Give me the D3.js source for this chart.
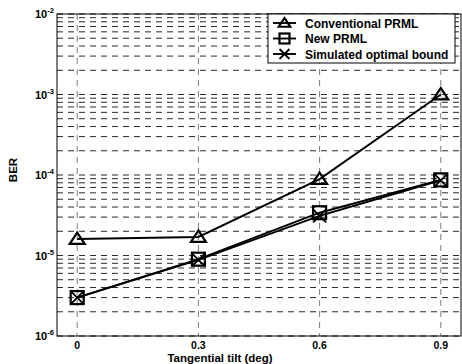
<!DOCTYPE html>
<html>
<head>
<meta charset="utf-8">
<script src="https://cdn.jsdelivr.net/npm/d3@7"></script>
<style>
  body { margin: 0; background: #fff; }
  svg { font-family: "Liberation Sans", Arial, sans-serif; font-weight: bold; }
</style>
</head>
<body>
<svg id="chart" width="462" height="364"></svg>
<script>
// tilt values (deg)
const tilts = [0, 0.3, 0.6, 0.9];
const xTickLabels = ['0', '0.3', '0.6', '0.9'];

// BER per series
const conventional = [1.6e-5, 1.7e-5, 8.9e-5, 1.0e-3];
const newPrml      = [3.0e-6, 9.0e-6, 3.4e-5, 8.7e-5];
const optimal      = [3.0e-6, 8.8e-6, 3.1e-5, 8.6e-5];

const yDecades = [-6, -5, -4, -3, -2];

const series = [
  { name: 'Conventional PRML', values: conventional, marker: 'triangle' },
  { name: 'New PRML', values: newPrml, marker: 'square' },
  { name: 'Simulated optimal bound', values: optimal, marker: 'cross' },
];

const svg = d3.select('#chart');
const margin = { left: 57, right: 1, top: 14, bottom: 28 };
const W = 462, H = 364;

const x = d3.scaleLinear().domain([-0.05, 0.95]).range([margin.left, W - margin.right]);
const y = d3.scaleLog().domain([1e-6, 1e-2]).range([H - margin.bottom, margin.top]);

// dashed grid, minor ticks in every decade
const gridVals = [];
for (let e = -6; e < -2; e++) {
  for (let m = 2; m <= 9; m++) gridVals.push(m * Math.pow(10, e));
}
yDecades.forEach(e => gridVals.push(Math.pow(10, e)));

svg.append('g')
  .selectAll('line')
  .data(gridVals)
  .join('line')
  .attr('x1', margin.left)
  .attr('x2', W - margin.right)
  .attr('y1', d => y(d))
  .attr('y2', d => y(d))
  .attr('stroke', '#111')
  .attr('stroke-width', 0.9)
  .attr('stroke-dasharray', '6,5');

svg.append('g')
  .selectAll('line')
  .data(tilts)
  .join('line')
  .attr('x1', d => x(d))
  .attr('x2', d => x(d))
  .attr('y1', margin.top)
  .attr('y2', H - margin.bottom)
  .attr('stroke', '#444')
  .attr('stroke-width', 0.7)
  .attr('stroke-dasharray', '6,5');

// frame
svg.append('rect')
  .attr('x', margin.left)
  .attr('y', margin.top)
  .attr('width', W - margin.right - margin.left)
  .attr('height', H - margin.bottom - margin.top)
  .attr('fill', 'none')
  .attr('stroke', '#000')
  .attr('stroke-width', 1);

// x tick labels
svg.append('g')
  .selectAll('text')
  .data(tilts)
  .join('text')
  .attr('x', d => x(d))
  .attr('y', H - margin.bottom + 13)
  .attr('text-anchor', 'middle')
  .attr('font-size', 10.5)
  .text((d, i) => xTickLabels[i]);

// y tick labels with superscripts
const yt = svg.append('g')
  .selectAll('text')
  .data(yDecades)
  .join('text')
  .attr('x', margin.left - 22)
  .attr('y', d => y(Math.pow(10, d)) + 4)
  .attr('font-size', 11);
yt.append('tspan').text('10');
yt.append('tspan').attr('dy', -5).attr('font-size', 7.5).text(d => d);

// axis titles
svg.append('text')
  .attr('x', 220)
  .attr('y', H - 2)
  .attr('text-anchor', 'middle')
  .attr('font-size', 11.5)
  .text('Tangential tilt (deg)');

svg.append('text')
  .attr('transform', `translate(17,${y(1e-4) - 5}) rotate(-90)`)
  .attr('text-anchor', 'middle')
  .attr('font-size', 11.5)
  .text('BER');

function drawMarker(g, type, cx, cy, r) {
  if (type === 'triangle') {
    g.append('path')
      .attr('d', `M${cx},${cy - r} L${cx + r * 1.15},${cy + r * 0.75} L${cx - r * 1.15},${cy + r * 0.75} Z`)
      .attr('fill', 'none').attr('stroke', '#000').attr('stroke-width', 2.2);
  } else if (type === 'square') {
    g.append('rect')
      .attr('x', cx - r).attr('y', cy - r)
      .attr('width', 2 * r).attr('height', 2 * r)
      .attr('fill', 'none').attr('stroke', '#000').attr('stroke-width', 2.2);
  } else {
    g.append('path')
      .attr('d', `M${cx - r},${cy - r} L${cx + r},${cy + r} M${cx - r},${cy + r} L${cx + r},${cy - r}`)
      .attr('stroke', '#000').attr('stroke-width', 1.8);
  }
}

const line = d3.line()
  .x((d, i) => x(tilts[i]))
  .y(d => y(d));

series.forEach(s => {
  svg.append('path')
    .attr('d', line(s.values))
    .attr('fill', 'none')
    .attr('stroke', '#000')
    .attr('stroke-width', 1.9);
});

series.forEach(s => {
  const g = svg.append('g');
  s.values.forEach((v, i) => drawMarker(g, s.marker, x(tilts[i]), y(v), 6.5));
});

// legend
const lg = svg.append('g');
lg.append('rect')
  .attr('x', 268).attr('y', margin.top)
  .attr('width', 187).attr('height', 49)
  .attr('fill', '#fff')
  .attr('stroke', '#000')
  .attr('stroke-width', 1);

series.forEach((s, i) => {
  const ly = 23 + i * 15.5;
  lg.append('line')
    .attr('x1', 273).attr('x2', 296)
    .attr('y1', ly).attr('y2', ly)
    .attr('stroke', '#000').attr('stroke-width', 1.9);
  drawMarker(lg, s.marker, 284.5, ly, 5);
  lg.append('text')
    .attr('x', 305)
    .attr('y', ly + 4.5)
    .attr('font-size', 12)
    .text(s.name);
});
</script>
</body>
</html>
